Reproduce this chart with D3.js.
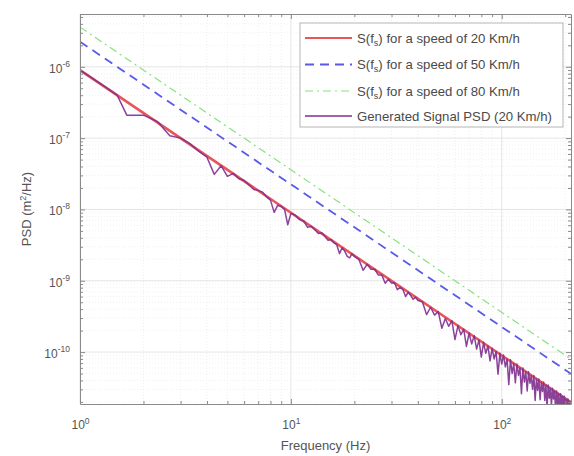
<!DOCTYPE html>
<html><head><meta charset="utf-8">
<script src="https://cdn.jsdelivr.net/npm/d3@7"></script>
<style>body{margin:0;background:#fff;} svg{display:block;font-family:"Liberation Sans",Arial,Helvetica,sans-serif;}</style>
</head><body><svg id="c" width="574" height="456"></svg>
<script>
// Reference PSD lines (straight lines in log-log space): endpoints
const refFreq = [1, 213];
const ref20 = [9.0e-7, 1.98e-11];
const ref50 = [2.25e-6, 4.96e-11];
const ref80 = [3.6e-6, 7.94e-11];

// Generated signal PSD (20 Km/h)
const sigFreq = [
  1, 1.333, 1.5, 1.667, 2, 2.333, 2.667, 3, 3.333, 3.667, 4, 4.333, 4.667, 5, 5.333, 5.667, 6, 6.333, 6.667, 7, 7.333, 7.667, 8, 8.333, 8.667, 9, 9.333, 9.667, 10,
  10.5, 11, 11.5, 12, 12.5, 13, 13.5, 14, 14.5, 15, 15.5, 16, 16.5, 17, 17.5, 18, 18.5, 19, 19.5, 20,
  21, 22, 23, 24, 25, 26, 27, 28, 29, 30, 31, 32, 33, 34, 35, 36, 37, 38, 39, 40,
  42, 44, 46, 48, 50, 52, 54, 56, 58, 60, 62, 64, 66, 68, 70, 72, 74, 76, 78, 80, 82, 84, 86, 88, 90, 92, 94, 96, 98, 100,
  102, 104, 106, 108, 110, 112, 114, 116, 118, 120, 122, 124, 126, 128, 130, 132, 134, 136, 138, 140, 142, 144, 146, 148, 150,
  152, 154, 156, 158, 160, 162, 164, 166, 168, 170, 172, 174, 176, 178, 180, 182, 184, 186, 188, 190, 192, 194, 196, 198, 200,
  202, 204, 206, 208, 210, 212, 214
];
const sigPsd = [
  9.0e-7, 5.1e-7, 4.0e-7, 2.1e-7, 2.1e-7, 1.7e-7, 1.08e-7, 1.0e-7, 8.3e-8, 6.5e-8, 5.4e-8, 3.1e-8, 4.1e-8, 2.9e-8, 3.2e-8, 2.7e-8, 2.55e-8, 2.2e-8, 1.9e-8, 1.85e-8, 1.75e-8, 1.5e-8, 1.35e-8, 9.1e-9, 1.15e-8, 1.1e-8, 1.0e-8, 6.1e-9, 8.8e-9,
  8.3e-9, 7.2e-9, 6.9e-9, 5.6e-9, 5.8e-9, 5.2e-9, 4.6e-9, 4.7e-9, 4.2e-9, 3.7e-9, 3.8e-9, 3.4e-9, 3.2e-9, 2.4e-9, 2.9e-9, 2.6e-9, 2.2e-9, 2.1e-9, 2.4e-9, 2.2e-9,
  2.0e-9, 1.4e-9, 1.7e-9, 1.45e-9, 1.45e-9, 1.2e-9, 1.2e-9, 9.2e-10, 1.05e-9, 9.3e-10, 9.4e-10, 7.5e-10, 8.1e-10, 7.5e-10, 6.0e-10, 6.9e-10, 6.2e-10, 5.5e-10, 5.9e-10, 5.3e-10,
  5.1e-10, 3.35e-10, 4.25e-10, 3.3e-10, 3.7e-10, 2.15e-10, 2.95e-10, 2.3e-10, 2.75e-10, 1.5e-10, 2.35e-10, 1.75e-10, 2.1e-10, 1.2e-10, 1.85e-10, 1.3e-10, 1.7e-10, 1.1e-10, 1.48e-10, 8.5e-11, 1.37e-10, 9.6e-11, 1.22e-10, 7.5e-11, 1.13e-10, 8.0e-11, 1.02e-10, 4.9e-11, 9.6e-11, 6.8e-11,
  9.1e-11, 6.2e-11, 8.0e-11, 3.5e-11, 7.8e-11, 5.0e-11, 6.9e-11, 3.7e-11, 6.8e-11, 4.7e-11, 6.0e-11, 2.6e-11, 6.0e-11, 3.8e-11, 5.3e-11, 2.85e-11, 5.3e-11, 3.65e-11, 4.7e-11, 3.0e-11, 4.7e-11, 2.1e-11, 4.2e-11, 2.9e-11, 4.2e-11,
  2.15e-11, 3.8e-11, 2.8e-11, 3.8e-11, 2.1e-11, 3.45e-11, 1.7e-11, 3.45e-11, 2.25e-11, 3.1e-11, 1.8e-11, 3.1e-11, 2.2e-11, 2.85e-11, 1.55e-11, 2.85e-11, 1.85e-11, 2.6e-11, 1.3e-11, 2.6e-11, 1.85e-11, 2.4e-11, 1.4e-11, 2.4e-11, 1.6e-11,
  2.2e-11, 1.2e-11, 2.2e-11, 1.55e-11, 2.05e-11, 1.2e-11, 1.97e-11
];

const xTicks = [1, 10, 100];
const xTickExp = ["0", "1", "2"];
const yTicks = [1e-10, 1e-9, 1e-8, 1e-7, 1e-6];
const yTickExp = ["-10", "-9", "-8", "-7", "-6"];
const legendItems = [
  {pre: "S(f", sub: "s", post: ") for a speed of 20 Km/h"},
  {pre: "S(f", sub: "s", post: ") for a speed of 50 Km/h"},
  {pre: "S(f", sub: "s", post: ") for a speed of 80 Km/h"},
  {pre: "Generated Signal PSD (20 Km/h)", sub: "", post: ""}
];
const xLabel = "Frequency (Hz)";
const yLabelParts = ["PSD (m", "2", "/Hz)"];

const W = 574, H = 456, m = {l: 80, t: 14, r: 3, b: 52};
const svg = d3.select("#c");
const x = d3.scaleLog().domain([1, 213]).range([m.l, W - m.r]);
const y = d3.scaleLog().domain([1.87e-11, 5.5e-6]).range([H - m.b, m.t]);
const pw = W - m.l - m.r, ph = H - m.t - m.b;

// grid
const xAll = x.ticks(), yAll = y.ticks();
const isMajor = v => Math.abs(Math.log10(v) - Math.round(Math.log10(v))) < 1e-9;
const g = svg.append("g");
g.selectAll(".vx").data(xAll).join("line")
  .attr("x1", d => x(d)).attr("x2", d => x(d)).attr("y1", m.t).attr("y2", H - m.b)
  .attr("stroke", d => isMajor(d) ? "#dedede" : "#ececec")
  .attr("stroke-width", 0.8)
  .attr("stroke-dasharray", d => isMajor(d) ? null : "1,2");
g.selectAll(".hy").data(yAll).join("line")
  .attr("y1", d => y(d)).attr("y2", d => y(d)).attr("x1", m.l).attr("x2", W - m.r)
  .attr("stroke", d => isMajor(d) ? "#dedede" : "#ececec")
  .attr("stroke-width", 0.8)
  .attr("stroke-dasharray", d => isMajor(d) ? null : "1,2");

// data
svg.append("clipPath").attr("id", "clip").append("rect")
  .attr("x", m.l).attr("y", m.t).attr("width", pw).attr("height", ph);
const plot = svg.append("g").attr("clip-path", "url(#clip)");
const line = d3.line().x(d => x(d[0])).y(d => y(d[1]));
const zip = (a, b) => a.map((v, i) => [v, b[i]]);

const series = [
  {data: zip(refFreq, ref20), color: "#e8555a", w: 2.6, dash: null},
  {data: zip(refFreq, ref50), color: "#5a5ae8", w: 1.8, dash: "9,6"},
  {data: zip(refFreq, ref80), color: "#86e27e", w: 1.2, dash: "8,4,2,4"},
  {data: zip(sigFreq, sigPsd), color: "#7e2f8e", w: 1.5, dash: null}
];
plot.append("path").datum(series[0].data).attr("d", line).attr("fill", "none")
  .attr("stroke", series[0].color).attr("stroke-width", series[0].w);
plot.append("path").datum(series[3].data).attr("d", line).attr("fill", "none")
  .attr("stroke", series[3].color).attr("stroke-width", series[3].w).attr("stroke-opacity", 0.9)
  .attr("stroke-linejoin", "round");
plot.append("path").datum(series[1].data).attr("d", line).attr("fill", "none")
  .attr("stroke", series[1].color).attr("stroke-width", series[1].w).attr("stroke-dasharray", series[1].dash);
plot.append("path").datum(series[2].data).attr("d", line).attr("fill", "none")
  .attr("stroke", series[2].color).attr("stroke-width", series[2].w).attr("stroke-dasharray", series[2].dash);

// axes
const axCol = "#8a8a8a", txtCol = "#555";
function styleAxis(sel) {
  sel.select(".domain").attr("stroke", axCol);
  sel.selectAll(".tick line").attr("stroke", axCol);
}
const xMinor = xAll.filter(d => !isMajor(d)), yMinor = yAll.filter(d => !isMajor(d));

const bx = svg.append("g").attr("transform", `translate(0,${H - m.b})`)
  .call(d3.axisBottom(x).tickValues(xTicks).tickSize(-5).tickSizeOuter(0).tickPadding(12).tickFormat(() => ""));
bx.append("g").call(d3.axisBottom(x).tickValues(xMinor).tickSize(-3).tickSizeOuter(0).tickFormat(() => "")).select(".domain").remove();
styleAxis(bx);
bx.selectAll(".tick line").attr("stroke", axCol);
bx.selectAll(":scope > .tick").each(function(d, i) {
  const t = d3.select(this).select("text");
  t.attr("y", 25).attr("dy", null).attr("fill", txtCol).attr("font-size", 12).attr("text-anchor", "middle");
  t.append("tspan").text("10");
  t.append("tspan").attr("dy", -5).attr("font-size", 8.5).text(xTickExp[i]);
});

const tx = svg.append("g").attr("transform", `translate(0,${m.t})`)
  .call(d3.axisTop(x).tickValues(xTicks).tickSize(-5).tickSizeOuter(0).tickFormat(() => ""));
tx.append("g").call(d3.axisTop(x).tickValues(xMinor).tickSize(-3).tickSizeOuter(0).tickFormat(() => "")).select(".domain").remove();
styleAxis(tx); tx.selectAll(".tick line").attr("stroke", axCol);

const ly = svg.append("g").attr("transform", `translate(${m.l},0)`)
  .call(d3.axisLeft(y).tickValues(yTicks).tickSize(-5).tickSizeOuter(0).tickPadding(10).tickFormat(() => ""));
ly.append("g").call(d3.axisLeft(y).tickValues(yMinor).tickSize(-3).tickSizeOuter(0).tickFormat(() => "")).select(".domain").remove();
styleAxis(ly); ly.selectAll(".tick line").attr("stroke", axCol);
ly.selectAll(":scope > .tick").each(function(d, i) {
  const t = d3.select(this).select("text");
  t.attr("x", -10).attr("dy", "0.45em").attr("fill", txtCol).attr("font-size", 12).attr("text-anchor", "end");
  t.append("tspan").text("10");
  t.append("tspan").attr("dy", -6).attr("font-size", 8.5).text(yTickExp[i]);
});

const ry = svg.append("g").attr("transform", `translate(${W - m.r},0)`)
  .call(d3.axisRight(y).tickValues(yTicks).tickSize(-5).tickSizeOuter(0).tickFormat(() => ""));
ry.append("g").call(d3.axisRight(y).tickValues(yMinor).tickSize(-3).tickSizeOuter(0).tickFormat(() => "")).select(".domain").remove();
styleAxis(ry); ry.selectAll(".tick line").attr("stroke", axCol);

// axis titles
svg.append("text").attr("x", (m.l + W - m.r) / 2).attr("y", 450).attr("text-anchor", "middle")
  .attr("fill", txtCol).attr("font-size", 13).text(xLabel);
const yl = svg.append("text").attr("transform", `translate(31,${(m.t + H - m.b) / 2}) rotate(-90)`)
  .attr("text-anchor", "middle").attr("fill", txtCol).attr("font-size", 13);
yl.append("tspan").text(yLabelParts[0]);
yl.append("tspan").attr("dy", -5).attr("font-size", 9).text(yLabelParts[1]);
yl.append("tspan").attr("dy", 5).text(yLabelParts[2]);

// legend
const lg = svg.append("g");
const lx = 300, lyTop = 23, lw = 263, lh = 104;
lg.append("rect").attr("x", lx).attr("y", lyTop).attr("width", lw).attr("height", lh)
  .attr("fill", "#fff").attr("stroke", "#b5b5b5").attr("stroke-width", 1);
const rowY = [38, 64.5, 91, 116];
legendItems.forEach((it, i) => {
  const s = series[i];
  lg.append("line").attr("x1", lx + 5).attr("x2", lx + 52).attr("y1", rowY[i]).attr("y2", rowY[i])
    .attr("stroke", s.color).attr("stroke-width", i === 3 ? 1.4 : Math.min(s.w, 2)).attr("stroke-dasharray", s.dash);
  const t = lg.append("text").attr("x", lx + 57).attr("y", rowY[i] + 4.5).attr("fill", "#4a4a4a").attr("font-size", 13.2);
  t.append("tspan").text(it.pre);
  if (it.sub) {
    t.append("tspan").attr("dy", 3).attr("font-size", 9).text(it.sub);
    t.append("tspan").attr("dy", -3).text(it.post);
  }
});
</script></body></html>
